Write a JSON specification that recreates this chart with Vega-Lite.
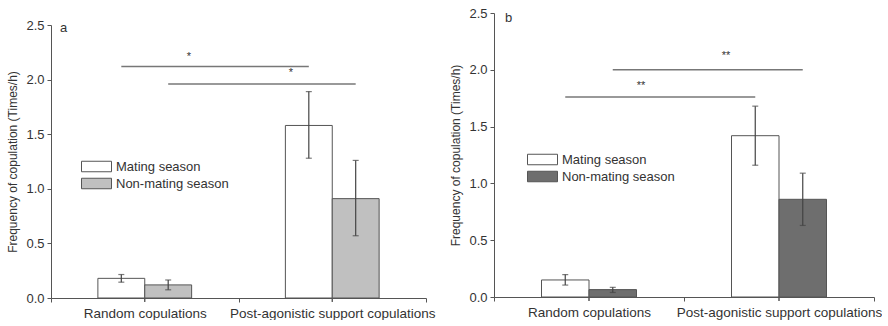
{
  "$schema": "https://vega.github.io/schema/vega-lite/v6.json",
  "background": "white",
  "padding": {"left": 6, "top": 7, "right": 0, "bottom": 0},
  "spacing": 13,
  "config": {
    "font": "Liberation Sans",
    "view": {"stroke": null},
    "axis": {
      "domainColor": "#555",
      "tickColor": "#555",
      "tickSize": 4,
      "labelColor": "#333",
      "labelFontSize": 13,
      "labelPadding": 3,
      "labelLimit": 400,
      "grid": false
    },
    "axisX": {"labelFontSize": 13.5, "labelPadding": 4},
    "legend": {
      "title": null,
      "orient": "none",
      "symbolType": "M-2,-0.7H2V0.7H-2Z",
      "symbolSize": 225,
      "symbolStrokeColor": "#555",
      "symbolStrokeWidth": 1,
      "labelFontSize": 13,
      "labelColor": "#333",
      "labelOffset": 11.5,
      "rowPadding": 1
    }
  },
  "datasets": {
    "bars": [
      {"panel": "a", "category": "Random copulations", "season": "Mating season", "frequency": 0.18, "low": 0.145, "high": 0.215},
      {"panel": "a", "category": "Random copulations", "season": "Non-mating season", "frequency": 0.12, "low": 0.075, "high": 0.165},
      {"panel": "a", "category": "Post-agonistic support copulations", "season": "Mating season", "frequency": 1.58, "low": 1.28, "high": 1.89},
      {"panel": "a", "category": "Post-agonistic support copulations", "season": "Non-mating season", "frequency": 0.91, "low": 0.57, "high": 1.26},
      {"panel": "b", "category": "Random copulations", "season": "Mating season", "frequency": 0.15, "low": 0.105, "high": 0.197},
      {"panel": "b", "category": "Random copulations", "season": "Non-mating season", "frequency": 0.065, "low": 0.04, "high": 0.085},
      {"panel": "b", "category": "Post-agonistic support copulations", "season": "Mating season", "frequency": 1.42, "low": 1.16, "high": 1.68},
      {"panel": "b", "category": "Post-agonistic support copulations", "season": "Non-mating season", "frequency": 0.86, "low": 0.63, "high": 1.09}
    ],
    "links": [
      {"panel": "a", "category": "Random copulations", "season": "Mating season", "level": 2.12},
      {"panel": "a", "category": "Post-agonistic support copulations", "season": "Mating season", "level": 2.12},
      {"panel": "a", "category": "Random copulations", "season": "Non-mating season", "level": 1.96},
      {"panel": "a", "category": "Post-agonistic support copulations", "season": "Non-mating season", "level": 1.96},
      {"panel": "b", "category": "Random copulations", "season": "Mating season", "level": 1.76},
      {"panel": "b", "category": "Post-agonistic support copulations", "season": "Mating season", "level": 1.76},
      {"panel": "b", "category": "Random copulations", "season": "Non-mating season", "level": 2.0},
      {"panel": "b", "category": "Post-agonistic support copulations", "season": "Non-mating season", "level": 2.0}
    ],
    "notes": [
      {"panel": "a", "category": "Random copulations", "level": 2.207, "label": "*"},
      {"panel": "a", "category": "Post-agonistic support copulations", "level": 2.06, "label": "*"},
      {"panel": "b", "category": "Random copulations", "level": 1.856, "label": "**"},
      {"panel": "b", "category": "Post-agonistic support copulations", "level": 2.12, "label": "**"}
    ]
  },
  "resolve": {"scale": {"x": "independent", "y": "independent", "xOffset": "independent", "fill": "independent"}},
  "hconcat": [
    {
      "width": 375,
      "height": 285,
      "layer": [
        {
          "data": {"name": "bars"},
          "transform": [{"filter": "datum.panel === 'a'"}],
          "mark": {"type": "bar", "stroke": "#555", "strokeWidth": 1},
          "encoding": {
            "x": {
              "field": "category", "type": "nominal",
              "scale": {"domain": ["Random copulations", "Post-agonistic support copulations"], "paddingInner": 0, "paddingOuter": 0},
              "axis": {"title": null, "labelAngle": 0, "tickBand": "extent"}
            },
            "xOffset": {
              "field": "season", "type": "nominal",
              "scale": {"domain": ["Mating season", "Non-mating season"], "paddingInner": 0, "paddingOuter": 1.47}
            },
            "y": {
              "field": "frequency", "type": "quantitative",
              "scale": {"domain": [0, 2.5], "nice": false, "range": [285, 12]},
              "axis": {"title": "Frequency of copulation (Times/h)", "values": [0, 0.5, 1, 1.5, 2, 2.5], "format": ".1f", "titleFontSize": 12, "titleFontWeight": "normal", "titleColor": "#333", "titlePadding": 6}
            },
            "fill": {
              "field": "season", "type": "nominal",
              "scale": {"domain": ["Mating season", "Non-mating season"], "range": ["#ffffff", "#c0c0c0"]},
              "legend": {"legendX": 37.5, "legendY": 145.5}
            }
          }
        },
        {
          "data": {"name": "bars"},
          "transform": [{"filter": "datum.panel === 'a'"}],
          "mark": {"type": "rule", "color": "#444", "strokeWidth": 1.2},
          "encoding": {
            "x": {"field": "category", "type": "nominal"},
            "xOffset": {"field": "season", "type": "nominal"},
            "y": {"field": "low", "type": "quantitative"},
            "y2": {"field": "high"}
          }
        },
        {
          "data": {"name": "bars"},
          "transform": [{"filter": "datum.panel === 'a'"}],
          "mark": {"type": "tick", "color": "#444", "size": 6, "thickness": 1.2},
          "encoding": {
            "x": {"field": "category", "type": "nominal"},
            "xOffset": {"field": "season", "type": "nominal"},
            "y": {"field": "low", "type": "quantitative"}
          }
        },
        {
          "data": {"name": "bars"},
          "transform": [{"filter": "datum.panel === 'a'"}],
          "mark": {"type": "tick", "color": "#444", "size": 6, "thickness": 1.2},
          "encoding": {
            "x": {"field": "category", "type": "nominal"},
            "xOffset": {"field": "season", "type": "nominal"},
            "y": {"field": "high", "type": "quantitative"}
          }
        },
        {
          "data": {"name": "bars"},
          "transform": [{"filter": "datum.panel === 'a'"}],
          "mark": {"type": "rule", "color": "#555", "strokeWidth": 1},
          "encoding": {
            "x": {"field": "category", "type": "nominal"},
            "y": {"datum": 0, "type": "quantitative"},
            "y2": {"datum": -0.036}
          }
        },
        {
          "data": {"name": "links"},
          "transform": [{"filter": "datum.panel === 'a'"}],
          "mark": {"type": "line", "color": "#777", "strokeWidth": 1.5},
          "encoding": {
            "x": {"field": "category", "type": "nominal"},
            "xOffset": {"field": "season", "type": "nominal"},
            "y": {"field": "level", "type": "quantitative"},
            "detail": {"field": "season"}
          }
        },
        {
          "data": {"name": "notes"},
          "transform": [{"filter": "datum.panel === 'a' && datum.category === 'Random copulations'"}],
          "mark": {"type": "text", "fontSize": 11, "color": "#333", "baseline": "middle"},
          "encoding": {
            "x": {"field": "category", "type": "nominal", "bandPosition": 0.736},
            "y": {"field": "level", "type": "quantitative"},
            "text": {"field": "label"}
          }
        },
        {
          "data": {"name": "notes"},
          "transform": [{"filter": "datum.panel === 'a' && datum.category !== 'Random copulations'"}],
          "mark": {"type": "text", "fontSize": 11, "color": "#333", "baseline": "middle"},
          "encoding": {
            "x": {"field": "category", "type": "nominal", "bandPosition": 0.28},
            "y": {"field": "level", "type": "quantitative"},
            "text": {"field": "label"}
          }
        },
        {
          "data": {"values": [{"panel": "a", "category": "Random copulations", "level": 2.47}]},
          "mark": {"type": "text", "fontSize": 13, "color": "#333", "align": "left", "baseline": "middle"},
          "encoding": {
            "x": {"field": "category", "type": "nominal", "bandPosition": 0.048},
            "y": {"field": "level", "type": "quantitative"},
            "text": {"field": "panel"}
          }
        }
      ]
    },
    {
      "width": 380,
      "height": 284,
      "layer": [
        {
          "data": {"name": "bars"},
          "transform": [{"filter": "datum.panel === 'b'"}],
          "mark": {"type": "bar", "stroke": "#555", "strokeWidth": 1},
          "encoding": {
            "x": {
              "field": "category", "type": "nominal",
              "scale": {"domain": ["Random copulations", "Post-agonistic support copulations"], "paddingInner": 0, "paddingOuter": 0},
              "axis": {"title": null, "labelAngle": 0, "tickBand": "extent"}
            },
            "xOffset": {
              "field": "season", "type": "nominal",
              "scale": {"domain": ["Mating season", "Non-mating season"], "paddingInner": 0, "paddingOuter": 1.53}
            },
            "y": {
              "field": "frequency", "type": "quantitative",
              "scale": {"domain": [0, 2.5], "nice": false},
              "axis": {"title": "Frequency of copulation (Times/h)", "values": [0, 0.5, 1, 1.5, 2, 2.5], "format": ".1f", "titleFontSize": 12, "titleFontWeight": "normal", "titleColor": "#333", "titlePadding": 6}
            },
            "fill": {
              "field": "season", "type": "nominal",
              "scale": {"domain": ["Mating season", "Non-mating season"], "range": ["#ffffff", "#6e6e6e"]},
              "legend": {"legendX": 40.5, "legendY": 138.5}
            }
          }
        },
        {
          "data": {"name": "bars"},
          "transform": [{"filter": "datum.panel === 'b'"}],
          "mark": {"type": "rule", "color": "#444", "strokeWidth": 1.2},
          "encoding": {
            "x": {"field": "category", "type": "nominal"},
            "xOffset": {"field": "season", "type": "nominal"},
            "y": {"field": "low", "type": "quantitative"},
            "y2": {"field": "high"}
          }
        },
        {
          "data": {"name": "bars"},
          "transform": [{"filter": "datum.panel === 'b'"}],
          "mark": {"type": "tick", "color": "#444", "size": 6, "thickness": 1.2},
          "encoding": {
            "x": {"field": "category", "type": "nominal"},
            "xOffset": {"field": "season", "type": "nominal"},
            "y": {"field": "low", "type": "quantitative"}
          }
        },
        {
          "data": {"name": "bars"},
          "transform": [{"filter": "datum.panel === 'b'"}],
          "mark": {"type": "tick", "color": "#444", "size": 6, "thickness": 1.2},
          "encoding": {
            "x": {"field": "category", "type": "nominal"},
            "xOffset": {"field": "season", "type": "nominal"},
            "y": {"field": "high", "type": "quantitative"}
          }
        },
        {
          "data": {"name": "bars"},
          "transform": [{"filter": "datum.panel === 'b'"}],
          "mark": {"type": "rule", "color": "#555", "strokeWidth": 1},
          "encoding": {
            "x": {"field": "category", "type": "nominal"},
            "y": {"datum": 0, "type": "quantitative"},
            "y2": {"datum": -0.035}
          }
        },
        {
          "data": {"name": "links"},
          "transform": [{"filter": "datum.panel === 'b'"}],
          "mark": {"type": "line", "color": "#777", "strokeWidth": 1.5},
          "encoding": {
            "x": {"field": "category", "type": "nominal"},
            "xOffset": {"field": "season", "type": "nominal"},
            "y": {"field": "level", "type": "quantitative"},
            "detail": {"field": "season"}
          }
        },
        {
          "data": {"name": "notes"},
          "transform": [{"filter": "datum.panel === 'b' && datum.category === 'Random copulations'"}],
          "mark": {"type": "text", "fontSize": 11, "color": "#333", "baseline": "middle"},
          "encoding": {
            "x": {"field": "category", "type": "nominal", "bandPosition": 0.774},
            "y": {"field": "level", "type": "quantitative"},
            "text": {"field": "label"}
          }
        },
        {
          "data": {"name": "notes"},
          "transform": [{"filter": "datum.panel === 'b' && datum.category !== 'Random copulations'"}],
          "mark": {"type": "text", "fontSize": 11, "color": "#333", "baseline": "middle"},
          "encoding": {
            "x": {"field": "category", "type": "nominal", "bandPosition": 0.221},
            "y": {"field": "level", "type": "quantitative"},
            "text": {"field": "label"}
          }
        },
        {
          "data": {"values": [{"panel": "b", "category": "Random copulations", "level": 2.46}]},
          "mark": {"type": "text", "fontSize": 13, "color": "#333", "align": "left", "baseline": "middle"},
          "encoding": {
            "x": {"field": "category", "type": "nominal", "bandPosition": 0.058},
            "y": {"field": "level", "type": "quantitative"},
            "text": {"field": "panel"}
          }
        }
      ]
    }
  ]
}
